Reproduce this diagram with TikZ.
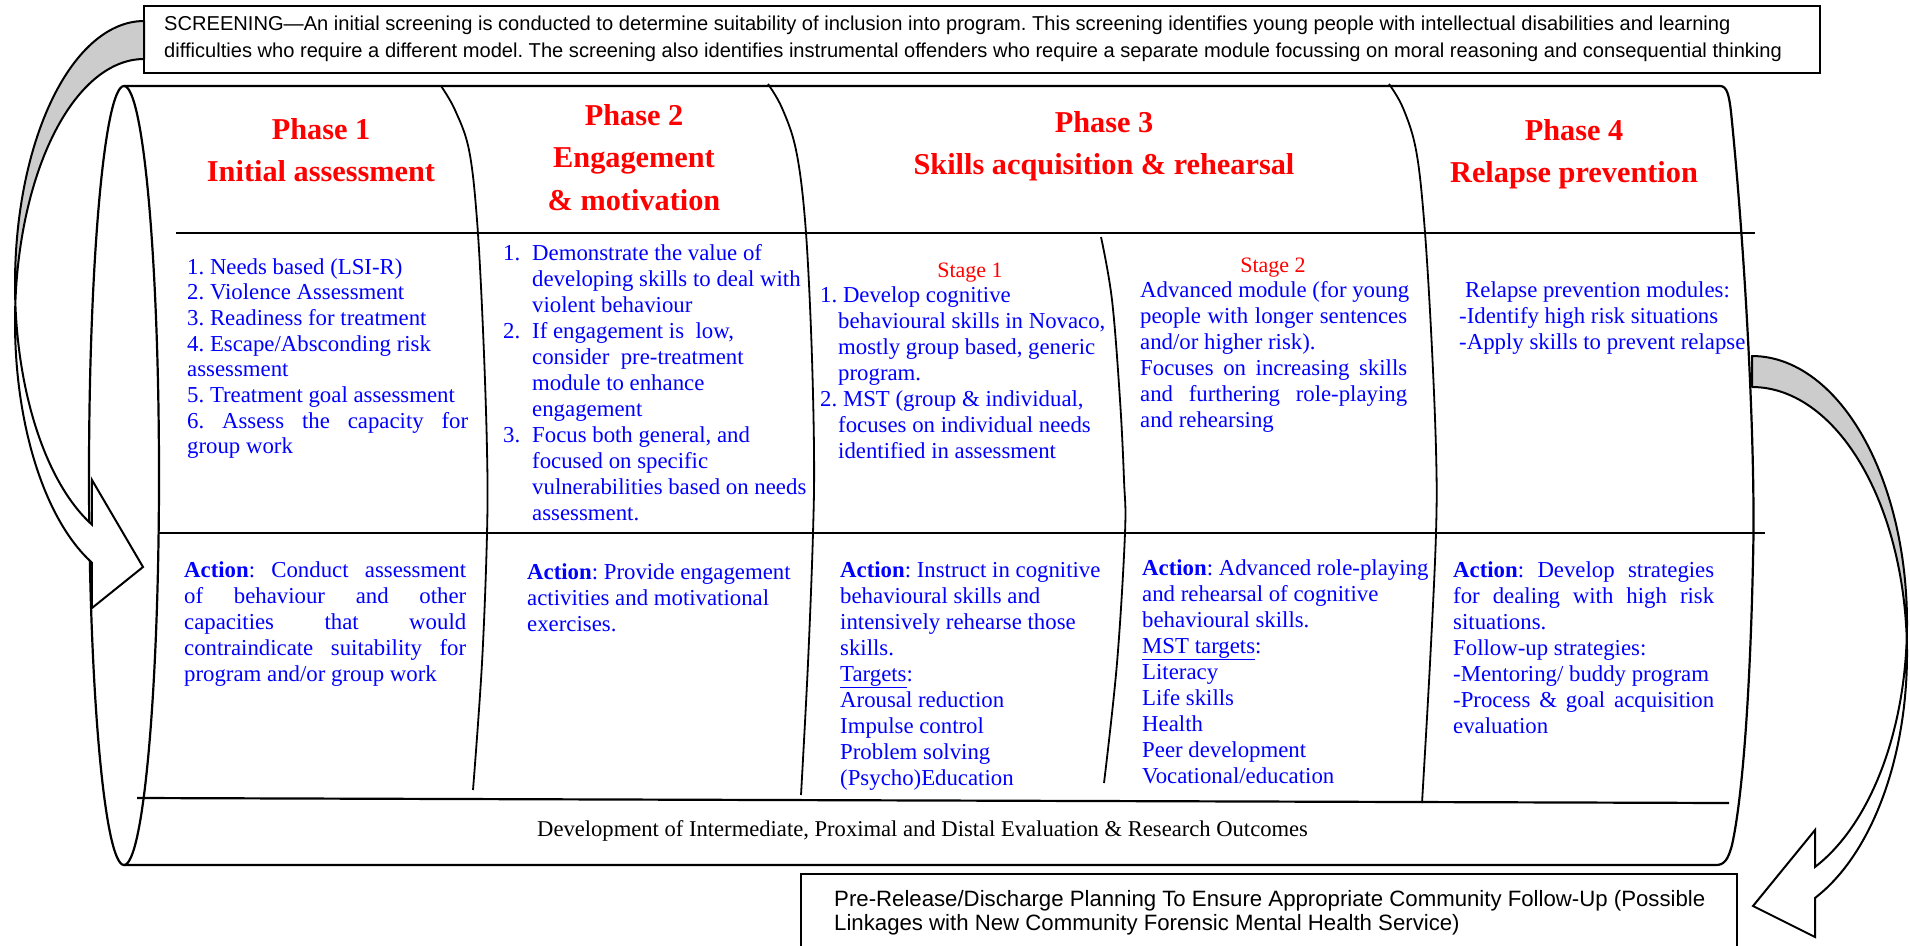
\documentclass[tikz,border=0pt]{standalone}
\usepackage{fontspec}
\setmainfont{Liberation Serif}
\newfontfamily\arialfont{Liberation Sans}
\frenchspacing
\newcommand\normspaces{\spaceskip=0pt\relax\xspaceskip=0pt\relax}
\definecolor{tblue}{RGB}{0,0,255}
\definecolor{tred}{RGB}{255,0,0}
\definecolor{bandgrey}{RGB}{204,204,204}
\tikzset{
  outline/.style={line width=2.2pt, line join=round},
  divline/.style={line width=2.2pt},
  colline/.style={line width=1.8pt},
  body/.style={inner sep=0pt, anchor=base west, text=tblue, font=\fontsize{22.8}{26}\selectfont, text width=330pt},
  head/.style={inner sep=0pt, anchor=base, text=tred, font=\fontsize{30.3}{36}\selectfont\bfseries},
  stagelbl/.style={inner sep=0pt, anchor=base, text=tred, font=\fontsize{22}{26}\selectfont},
  boxtext/.style={inner sep=0pt, anchor=base west},
  arrowback/.style={fill=bandgrey, draw=black, line width=2pt, line join=round},
  arrowfront/.style={fill=white, draw=black, line width=2pt, line join=miter},
}
\begin{document}
\begin{tikzpicture}[x=1pt, y=-1pt]
\useasboundingbox (0,0) rectangle (1910,945);
% cylinder outline
\draw[outline] (124,86) -- (1720,86) .. controls (1727,86) and (1729,95) .. (1731,112)
  .. controls (1745,250) and (1756,450) .. (1753,560)
  .. controls (1750,700) and (1742,800) .. (1732,845)
  .. controls (1728,860) and (1724,865) .. (1716,865) -- (124,865);
\draw[outline] (124,475.5) ellipse [x radius=35, y radius=389.5];
% horizontal dividers
\draw[divline] (176,233) -- (1755,233);
\draw[divline] (158,533) -- (1765,533);
\draw[divline] (137,798) -- (1729,803);
% column dividers
\draw[colline] plot[smooth, tension=0.6] coordinates {(441,86) (455,110) (469,150) (477,220) (483,330) (487,450) (487,534) (482,663) (473,790)};
\draw[colline] plot[smooth, tension=0.6] coordinates {(768,84) (782,108) (796,150) (805,220) (811,330) (814,450) (813,533) (808,663) (801,795)};
\draw[colline] plot[smooth, tension=0.6] coordinates {(1101,237) (1112,300) (1120,400) (1124,480) (1125,533) (1117,663) (1104,783)};
\draw[colline] plot[smooth, tension=0.6] coordinates {(1389,84) (1403,108) (1416,150) (1424,220) (1431,330) (1436,450) (1436,533) (1430,663) (1422,803)};
% headings
\node[head] (h1a) at (321,139) {Phase 1};
\node[head] (h1b) at (321,181.5) {Initial assessment};
\node[head] (h2a) at (634,125) {Phase 2};
\node[head] (h2b) at (634,167.5) {Engagement};
\node[head] (h2c) at (634,210) {\& motivation};
\node[head] (h3a) at (1104,132) {Phase 3};
\node[head] (h3b) at (1104,174) {Skills acquisition \& rehearsal};
\node[head] (h4a) at (1574,140) {Phase 4};
\node[head] (h4b) at (1574,182.5) {Relapse prevention};
% upper cells
\node[body, font=\fontsize{22.8}{25.7}\selectfont] (p1list) at (187,274) {\normspaces 1. Needs based (LSI-R)\\
2. Violence Assessment\\
3. Readiness for treatment\\
4. Escape/Absconding risk\\
assessment\\
5. Treatment goal assessment\\
\makebox[281pt][s]{6. Assess the capacity for}\\
group work};
\node[body] (p2list) at (503,260) {\normspaces\makebox[29pt][l]{1.}Demonstrate the value of\\
\hspace*{29pt}developing skills to deal with\\
\hspace*{29pt}violent behaviour\\
\makebox[29pt][l]{2.}If engagement is\ \ low,\\
\hspace*{29pt}consider\ \ pre-treatment\\
\hspace*{29pt}module to enhance\\
\hspace*{29pt}engagement\\
\makebox[29pt][l]{3.}Focus both general, and\\
\hspace*{29pt}focused on specific\\
\hspace*{29pt}vulnerabilities based on needs\\
\hspace*{29pt}assessment.};
\node[stagelbl] (st1) at (970,277) {Stage 1};
\node[body] (s1list) at (820,302) {\normspaces 1. Develop cognitive\\
\hspace*{18pt}behavioural skills in Novaco,\\
\hspace*{18pt}mostly group based, generic\\
\hspace*{18pt}program.\\
2. MST (group \& individual,\\
\hspace*{18pt}focuses on individual needs\\
\hspace*{18pt}identified in assessment};
\node[stagelbl] (st2) at (1273,272) {Stage 2};
\node[body] (s2text) at (1140,297) {\normspaces Advanced module (for young\\
\makebox[267pt][s]{people with longer sentences}\\
and/or higher risk).\\
\makebox[267pt][s]{Focuses on increasing skills}\\
\makebox[267pt][s]{and furthering role-playing}\\
and rehearsing};
\node[body] (p4text) at (1459,297) {\normspaces\hspace*{6pt}Relapse prevention modules:\\
-Identify high risk situations\\
-Apply skills to prevent relapse};
% action cells
\node[body] (a1) at (184,577) {\normspaces\makebox[282pt][s]{\textbf{Action}: Conduct assessment}\\
\makebox[282pt][s]{of behaviour and other}\\
\makebox[282pt][s]{capacities that would}\\
\makebox[282pt][s]{contraindicate suitability for}\\
program and/or group work};
\node[body] (a2) at (527,579) {\normspaces\textbf{Action}: Provide engagement\\
activities and motivational\\
exercises.};
\node[body] (a3) at (840,577) {\normspaces\textbf{Action}: Instruct in cognitive\\
behavioural skills and\\
intensively rehearse those\\
skills.\\
\underline{Targets}:\\
Arousal reduction\\
Impulse control\\
Problem solving\\
(Psycho)Education};
\node[body] (a4) at (1142,575) {\normspaces\textbf{Action}: Advanced role-playing\\
and rehearsal of cognitive\\
behavioural skills.\\
\underline{MST targets}:\\
Literacy\\
Life skills\\
Health\\
Peer development\\
Vocational/education};
\node[body] (a5) at (1453,577) {\normspaces\makebox[261pt][s]{\textbf{Action}: Develop strategies}\\
\makebox[261pt][s]{for dealing with high risk}\\
situations.\\
Follow-up strategies:\\
-Mentoring/ buddy program\\
\makebox[261pt][s]{-Process \& goal acquisition}\\
evaluation};
\node[inner sep=0pt, anchor=base west, font=\fontsize{22.6}{26}\selectfont] (dev) at (537,836) {Development of Intermediate, Proximal and Distal Evaluation \& Research Outcomes};
% screening box
\draw[line width=2.2pt] (144,6) rectangle (1820,73);
\node[boxtext, text width=1700pt, font=\arialfont\fontsize{20.1}{27}\selectfont] (scr) at (164,30) {\normspaces SCREENING—An initial screening is conducted to determine suitability of inclusion into program. This screening identifies young people with intellectual disabilities and learning\\
difficulties who require a different model. The screening also identifies instrumental offenders who require a separate module focussing on moral reasoning and consequential thinking};
% bottom box
\draw[line width=2.2pt] (801,874) rectangle (1737,962);
\node[boxtext, text width=900pt, font=\arialfont\fontsize{22.2}{24.5}\selectfont] (pre) at (834,906) {\normspaces Pre-Release/Discharge Planning To Ensure Appropriate Community Follow-Up (Possible\\
Linkages with New Community Forensic Mental Health Service)};
% left curved arrow
\draw[arrowback] plot[domain=90:-4.14, samples=60, variable=\t] ({144-129*cos(\t)},{284-263*sin(\t)})
  -- plot[domain=4.14:90, samples=60, variable=\t] ({144-129*cos(\t)},{322-263*sin(\t)}) -- cycle;
\draw[arrowfront] plot[domain=-4.14:-66.2, samples=60, variable=\t] ({144-129*cos(\t)},{284-263*sin(\t)})
  -- (92,480) -- (143,567) -- (92,608)
  -- plot[domain=-66.2:4.14, samples=60, variable=\t] ({144-129*cos(\t)},{322-263*sin(\t)}) -- cycle;
% right curved arrow
\draw[arrowback] plot[domain=90:-3.33, samples=60, variable=\t] ({1752+155*cos(\t)},{623-267*sin(\t)})
  -- plot[domain=3.33:90, samples=60, variable=\t] ({1752+155*cos(\t)},{654-267*sin(\t)}) -- cycle;
\draw[arrowfront] plot[domain=-3.33:-66.0, samples=60, variable=\t] ({1752+155*cos(\t)},{623-267*sin(\t)})
  -- (1815,830) -- (1753,906) -- (1815,937)
  -- plot[domain=-66.0:3.33, samples=60, variable=\t] ({1752+155*cos(\t)},{654-267*sin(\t)}) -- cycle;
\end{tikzpicture}
\end{document}
